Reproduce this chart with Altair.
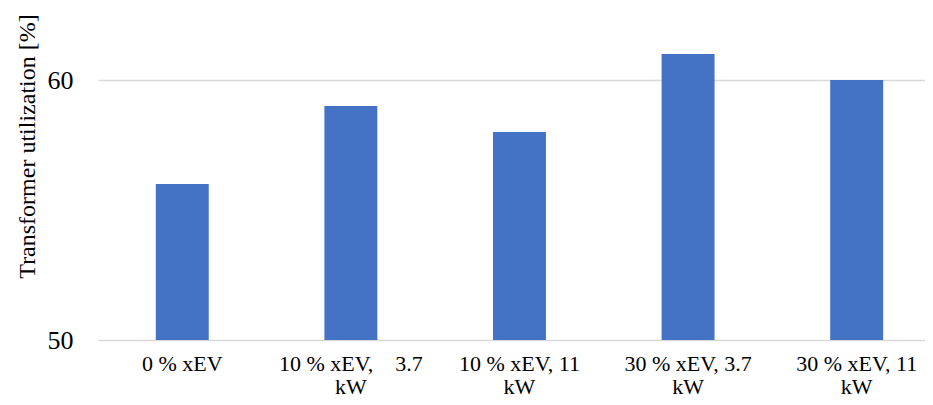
import altair as alt
import pandas as pd

categories = ["0 % xEV", "10 % xEV,\u00a0\u00a0\u00a0 3.7 kW", "10 % xEV, 11 kW", "30 % xEV, 3.7 kW", "30 % xEV, 11 kW"]
values = [56, 59, 58, 61, 60]
y_ticks = [50, 60]

df = pd.DataFrame({"scenario": categories, "util": values})

font = "Liberation Serif"

chart = alt.Chart(df).mark_bar(color="#4472C4").encode(
    x=alt.X(
        "scenario:N",
        sort=categories,
        title=None,
        scale=alt.Scale(paddingInner=0.686, paddingOuter=0.2955, align=0.58),
        axis=alt.Axis(
            labelAngle=0,
            labelFont=font,
            labelFontSize=22,
            labelColor="#000000",
            labelLineHeight=23,
            labelPadding=13,
            labelLimit=0,
            labelBaseline="top",
            labelExpr="indexof(datum.label, ' kW') > 0 ? [replace(datum.label, ' kW', ''), 'kW'] : datum.label",
            domain=False,
            ticks=False,
            grid=False,
        ),
    ),
    y=alt.Y(
        "util:Q",
        title="Transformer utilization [%]",
        scale=alt.Scale(domain=[50, 62], nice=False, zero=False, clamp=True),
        axis=alt.Axis(
            values=y_ticks,
            labelFont=font,
            labelFontSize=26,
            labelColor="#000000",
            labelPadding=25,
            domain=False,
            ticks=False,
            grid=True,
            gridColor="#D9D9D9",
            gridWidth=1.5,
            titleFont=font,
            titleFontSize=24,
            titleFontWeight="normal",
            titleColor="#000000",
            titleAngle=-90,
            titleBaseline="middle",
            titleAlign="center",
            titleX=-71,
            titleY=118,
        ),
    ),
).properties(
    width=827,
    height=312,
    padding={"left": 90, "top": 20, "right": 0, "bottom": 57},
    autosize=alt.AutoSizeParams(type="none"),
).configure_view(stroke=None)

chart.save("out.html", embed_options={"renderer": "svg", "actions": False})
